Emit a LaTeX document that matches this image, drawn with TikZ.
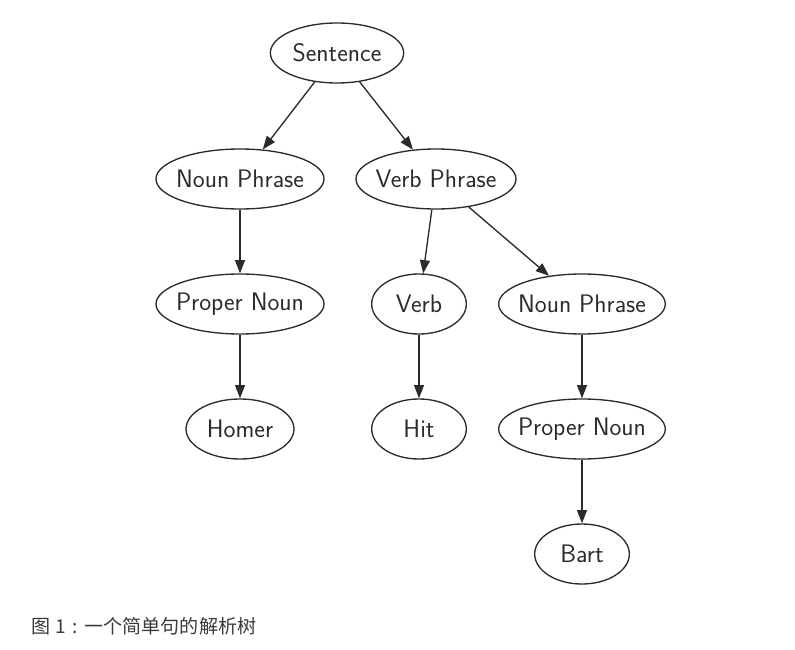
\documentclass[tikz,border=0pt]{standalone}
\usepackage{fontspec}
\newfontfamily\cjk{Noto Sans CJK SC}
\usepackage{xcolor}
\usepackage{tikz}
\usetikzlibrary{shapes.geometric, arrows.meta, positioning}

\definecolor{inkgray}{HTML}{2B2B2B}
\definecolor{capgray}{HTML}{3A3A3A}

\begin{document}
\begin{tikzpicture}[x=0.75pt, y=-0.75pt, >={Triangle[length=10pt,width=7.5pt]},
  every node/.style={ellipse, draw=inkgray, line width=1pt, inner sep=-10pt, minimum height=45pt, text=inkgray, font=\sffamily\fontsize{19}{22}\selectfont}]
\useasboundingbox (0,0) rectangle (795,649);

\node[minimum width=100pt] (sent) at (337,53) {Sentence};
\node[minimum width=126pt] (np) at (240,179) {Noun Phrase};
\node[minimum width=120pt] (vp) at (436,179) {Verb Phrase};
\node[minimum width=126pt] (pn) at (240,304) {Proper Noun};
\node[minimum width=71pt] (verb) at (419,304) {Verb};
\node[minimum width=125pt] (np2) at (582,304) {Noun Phrase};
\node[minimum width=81pt] (homer) at (240,429) {Homer};
\node[minimum width=71pt] (hit) at (419,429) {Hit};
\node[minimum width=125pt] (pn2) at (582,429) {Proper Noun};
\node[minimum width=71pt] (bart) at (582,554) {Bart};

\draw[->, inkgray, line width=1pt] (sent) -- (np);
\draw[->, inkgray, line width=1pt] (sent) -- (vp);
\draw[->, inkgray, line width=1pt] (np) -- (pn);
\draw[->, inkgray, line width=1pt] (pn) -- (homer);
\draw[->, inkgray, line width=1pt] (vp) -- (verb);
\draw[->, inkgray, line width=1pt] (vp) -- (np2);
\draw[->, inkgray, line width=1pt] (verb) -- (hit);
\draw[->, inkgray, line width=1pt] (np2) -- (pn2);
\draw[->, inkgray, line width=1pt] (pn2) -- (bart);

% caption
\node[draw=none, rectangle, anchor=west, minimum height=0pt, inner sep=0pt, text=capgray, font=\cjk\fontsize{14.3}{16}\selectfont] (cap) at (31,626) {图 1\makebox[1em][c]{:}一个简单句的解析树};
\end{tikzpicture}
\end{document}
